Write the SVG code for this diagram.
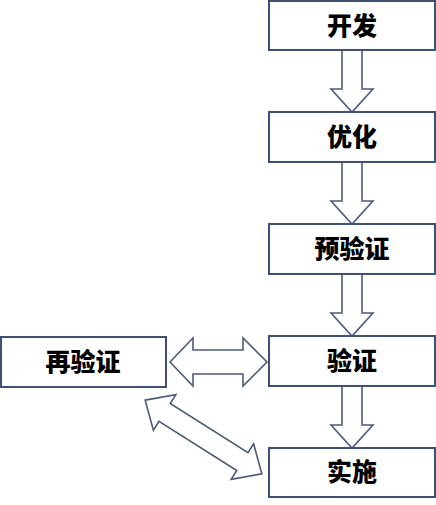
<svg xmlns="http://www.w3.org/2000/svg" width="436" height="505" viewBox="0 0 436 505">
<style>
.box{fill:#fff;stroke:#3e5175;stroke-width:2}
.arr{fill:#fff;stroke:#4b5b7a;stroke-width:1.6;stroke-linejoin:miter}
.t{font-family:"Noto Sans CJK SC","Noto Sans CJK JP",sans-serif;font-weight:900;font-size:25px;fill:#000;text-anchor:middle;dominant-baseline:central}
</style>
<defs>
<path id="down" d="M342,0 H362 V39 H373 L352,62 L331,39 H342 Z"/>
</defs>
<rect width="436" height="505" fill="#fff"/>
<g id="connectors">
<use href="#down" class="arr" transform="translate(0,50)"/>
<use href="#down" class="arr" transform="translate(0,162)"/>
<use href="#down" class="arr" transform="translate(0,274)"/>
<use href="#down" class="arr" transform="translate(0,386)"/>
<path class="arr" d="M170,362 L193,338 V350 H243 V338 L267,362 L243,386 V374 H193 V386 Z"/>
<path class="arr" transform="translate(203.5,437) rotate(32.3)" d="M-69,0 L-46,-21 V-10.5 H46 V-21 L69,0 L46,21 V10.5 H-46 V21 Z"/>
</g>
<g id="n1"><rect class="box" x="269" y="1" width="166" height="49"/><text class="t" x="352" y="24">开发</text></g>
<g id="n2"><rect class="box" x="269" y="112" width="166" height="50"/><text class="t" x="352" y="135">优化</text></g>
<g id="n3"><rect class="box" x="269" y="224" width="166" height="50"/><text class="t" x="352" y="247">预验证</text></g>
<g id="n4"><rect class="box" x="269" y="336" width="166" height="50"/><text class="t" x="352" y="359">验证</text></g>
<g id="n5"><rect class="box" x="269" y="448" width="166" height="49"/><text class="t" x="352" y="470">实施</text></g>
<g id="n6"><rect class="box" x="1" y="337" width="165" height="50"/><text class="t" x="83" y="360">再验证</text></g>
</svg>
